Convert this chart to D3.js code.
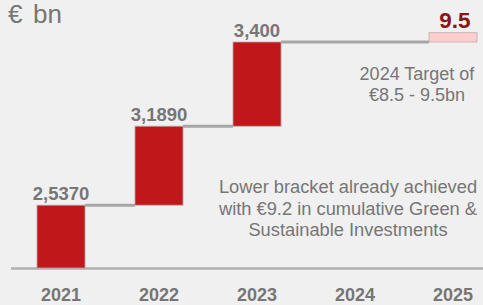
<!DOCTYPE html>
<html><head><meta charset="utf-8">
<script src="https://cdn.jsdelivr.net/npm/d3@7"></script>
<style>html,body{margin:0;padding:0;background:#f0f0f0;}svg{display:block;}</style>
</head><body>
<svg id="c" width="483" height="305"></svg>
<script>
const years = ["2021","2022","2023","2024","2025"];
const barYears = ["2021","2022","2023"];
const increments = [2.537, 3.189, 3.400];
const valueLabels = ["2,5370","3,1890","3,400"];
const targetYear = "2025";
const targetValue = 9.5;
const targetLabel = "9.5";
const unitSymbol = "€";
const unitText = "bn";
const noteTarget = ["2024 Target of","€8.5 - 9.5bn"];
const noteBracket = ["Lower bracket already achieved","with €9.2 in cumulative Green &","Sustainable Investments"];

const FONT = "Liberation Sans, Arial, sans-serif";
const GREY = "#767676";
const svg = d3.select("#c");
const W = 483, H = 305;
svg.append("rect").attr("width",W).attr("height",H).attr("fill","#f0f0f0");

const x = d3.scaleBand().domain(years).range([12,502]).paddingInner(0.51).paddingOuter(0.255);
const y = d3.scaleLinear().domain([0, 9.126]).range([268, 42]);

let cum = 0;
const bars = increments.map((v,i)=>{ const s = cum; cum += v; return {year:barYears[i], start:s, end:cum, label:valueLabels[i]}; });

// baseline
svg.append("line").attr("x1",11).attr("x2",W).attr("y1",y(0)+0.5).attr("y2",y(0)+0.5)
  .attr("stroke","#b0b0b0").attr("stroke-width",2.5);

// connectors
const conn = [];
for (let i=0;i<bars.length-1;i++) conn.push({x1:x(bars[i].year)+x.bandwidth(), x2:x(bars[i+1].year), v:bars[i].end});
conn.push({x1:x(bars[bars.length-1].year)+x.bandwidth(), x2:x(targetYear), v:cum});
svg.selectAll(".conn").data(conn).enter().append("line")
  .attr("x1",d=>d.x1).attr("x2",d=>d.x2).attr("y1",d=>y(d.v)).attr("y2",d=>y(d.v))
  .attr("stroke","#a6a6a6").attr("stroke-width",3);

// bars
svg.selectAll(".bar").data(bars).enter().append("rect")
  .attr("x",d=>x(d.year)).attr("width",x.bandwidth())
  .attr("y",d=>y(d.end)).attr("height",d=>y(d.start)-y(d.end))
  .attr("fill","#c0171a").attr("stroke","#b7a8a8").attr("stroke-width",0.8);

// target bar
svg.append("rect").attr("x",x(targetYear)).attr("width",x.bandwidth())
  .attr("y",y(targetValue)).attr("height",y(cum)-y(targetValue))
  .attr("fill","#ffcdcd").attr("stroke","#b8aaaa").attr("stroke-width",0.8);

// value labels
svg.selectAll(".vl").data(bars).enter().append("text")
  .attr("x",d=>x(d.year)+x.bandwidth()/2).attr("y",d=>y(d.end)-5)
  .attr("text-anchor","middle").attr("font-family",FONT)
  .attr("font-weight","bold").attr("font-size",18.5).attr("fill",GREY).text(d=>d.label);

svg.append("text").attr("x",x(targetYear)+x.bandwidth()/2+2).attr("y",28)
  .attr("text-anchor","middle").attr("font-family",FONT)
  .attr("font-weight","bold").attr("font-size",22.5).attr("fill","#8b1414").text(targetLabel);

// x axis labels
const ax = svg.append("g").attr("transform","translate(0,301)")
  .call(d3.axisBottom(x).tickSize(0).tickPadding(0));
ax.select(".domain").remove();
ax.selectAll("text").attr("font-family",FONT)
  .attr("font-weight","bold").attr("font-size",18).attr("fill",GREY).attr("dy",0);

// unit label
const u = svg.append("text").attr("y",23).attr("font-family",FONT)
  .attr("font-size",26).attr("fill",GREY);
u.append("tspan").attr("x",8).text(unitSymbol);
u.append("tspan").attr("x",33).text(unitText);

// notes
const t1 = svg.append("text").attr("text-anchor","middle").attr("font-family",FONT)
  .attr("font-size",18).attr("fill",GREY);
noteTarget.forEach((s,i)=>t1.append("tspan").attr("x",417).attr("y",80+i*21).text(s));
const t2 = svg.append("text").attr("text-anchor","middle").attr("font-family",FONT)
  .attr("font-size",18.3).attr("fill",GREY);
noteBracket.forEach((s,i)=>t2.append("tspan").attr("x",348).attr("y",193+i*21.5).text(s));
</script>
</body></html>
